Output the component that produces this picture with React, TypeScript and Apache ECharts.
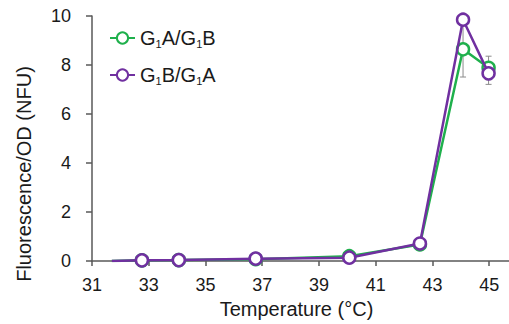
import React, { useEffect, useRef } from "react";
import * as echarts from "echarts";

const temps = [31.7, 32.76, 34.06, 36.77, 40.07, 42.56, 44.08, 44.98];
const g1ab = [0.0, 0.03, 0.04, 0.08, 0.2, 0.68, 8.64, 7.89];
const g1ba = [0.0, 0.03, 0.04, 0.1, 0.14, 0.72, 9.85, 7.66];
const g1abErrLow = [null, null, null, null, null, null, 7.51, 7.4];
const g1abErrHigh = [null, null, null, null, null, null, 9.77, 8.36];
const g1baErrLow = [null, null, null, null, null, null, null, 7.21];
const g1baErrHigh = [null, null, null, null, null, null, null, 8.1];
const xTicks = [31, 33, 35, 37, 39, 41, 43, 45];
const seriesNames = ["G1A/G1B", "G1B/G1A"];

const GREEN = "#1fb04c";
const PURPLE = "#7030a0";
const AXIS = "#595959";
const FONT = "Liberation Sans, Arial, sans-serif";

function buildData(vals: number[]) {
  return temps.map((t, i) =>
    i === 0 ? { value: [t, vals[i]], symbol: "none" } : { value: [t, vals[i]] }
  );
}

function buildErr(lo: (number | null)[], hi: (number | null)[]) {
  const out: number[][] = [];
  temps.forEach((t, i) => {
    if (lo[i] != null && hi[i] != null) out.push([t, lo[i] as number, hi[i] as number]);
  });
  return out;
}

export default function App() {
  const ref = useRef<HTMLDivElement>(null);
  useEffect(() => {
    document.body.style.margin = "0";
    const chart = echarts.init(ref.current!, null, { renderer: "svg" });
    const errRender = (params: any, api: any) => {
      const x = api.value(0);
      const p1 = api.coord([x, api.value(1)]);
      const p2 = api.coord([x, api.value(2)]);
      const cw = 3;
      const st = { stroke: "#8c8c8c", lineWidth: 1 };
      return {
        type: "group",
        children: [
          { type: "line", shape: { x1: p1[0], y1: p1[1], x2: p2[0], y2: p2[1] }, style: st },
          { type: "line", shape: { x1: p1[0] - cw, y1: p1[1], x2: p1[0] + cw, y2: p1[1] }, style: st },
          { type: "line", shape: { x1: p2[0] - cw, y1: p2[1], x2: p2[0] + cw, y2: p2[1] }, style: st },
        ],
      };
    };
    const lineSeries = (name: string, vals: number[], color: string, z: number) => ({
      name,
      type: "line",
      data: buildData(vals),
      symbol: "circle",
      symbolSize: 12,
      showAllSymbol: true,
      z,
      lineStyle: { color, width: 2.5 },
      itemStyle: { color: "#ffffff", borderColor: color, borderWidth: 2.5 },
    });
    chart.setOption({
      animation: false,
      grid: { left: 92, right: 0, top: 16, bottom: 60.3 },
      legend: {
        orient: "vertical",
        left: 104,
        top: 23,
        itemWidth: 25,
        itemHeight: 14,
        itemGap: 16,
        data: seriesNames,
        formatter: (n: string) => {
          const parts = n.split("1");
          return parts.map((p, i) => `{a|${p}}` + (i < parts.length - 1 ? "{s|1}" : "")).join("");
        },
        textStyle: {
          fontFamily: FONT,
          color: "#1a1a1a",
          rich: {
            a: { fontSize: 20, fontFamily: FONT, color: "#1a1a1a", lineHeight: 22 },
            s: { fontSize: 11, fontFamily: FONT, color: "#1a1a1a", verticalAlign: "bottom", lineHeight: 22, padding: [8, 0, 0, 0] },
          },
        },
      },
      xAxis: {
        type: "value",
        min: 31,
        max: 45.7,
        interval: 2,
        splitLine: { show: false },
        axisLine: { lineStyle: { color: AXIS, width: 1.5 } },
        axisTick: { show: true, customValues: xTicks, length: 5, lineStyle: { color: AXIS, width: 1.5 } },
        axisLabel: { customValues: xTicks, fontSize: 18, fontFamily: FONT, color: "#1a1a1a", margin: 15 },
        name: "Temperature (°C)",
        nameLocation: "middle",
        nameGap: 36,
        nameTextStyle: { fontSize: 20, fontFamily: FONT, color: "#1a1a1a", padding: [0, 0, 0, -8] },
      },
      yAxis: {
        type: "value",
        min: 0,
        max: 10,
        interval: 2,
        splitLine: { show: false },
        axisLine: { show: true, lineStyle: { color: AXIS, width: 1.5 } },
        axisTick: { show: true, length: 6, lineStyle: { color: AXIS, width: 1.5 } },
        axisLabel: { fontSize: 18, fontFamily: FONT, color: "#1a1a1a", margin: 21 },
      },
      graphic: [
        {
          type: "text",
          x: 24,
          y: 174,
          rotation: Math.PI / 2,
          style: {
            text: "Fluorescence/OD (NFU)",
            fontSize: 20,
            fontFamily: FONT,
            fill: "#1a1a1a",
            textAlign: "center",
            textVerticalAlign: "middle",
          },
        },
      ],
      series: [
        {
          type: "custom",
          renderItem: errRender,
          data: buildErr(g1abErrLow, g1abErrHigh),
          z: 1,
          silent: true,
        },
        {
          type: "custom",
          renderItem: errRender,
          data: buildErr(g1baErrLow, g1baErrHigh),
          z: 1,
          silent: true,
        },
        lineSeries(seriesNames[0], g1ab, GREEN, 2),
        lineSeries(seriesNames[1], g1ba, PURPLE, 3),
      ],
    });
    return () => chart.dispose();
  }, []);
  return <div ref={ref} style={{ width: 509, height: 324 }} />;
}
